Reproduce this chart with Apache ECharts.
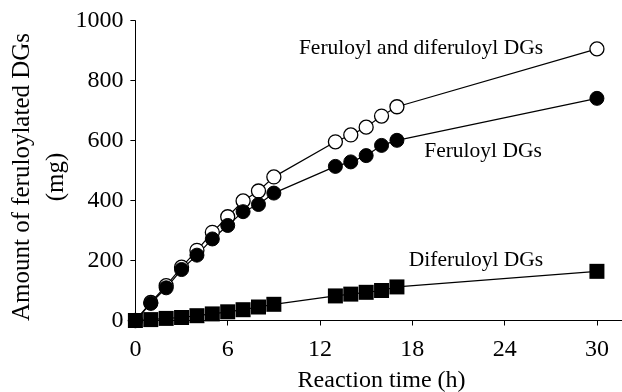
<!DOCTYPE html>
<html>
<head>
<meta charset="utf-8">
<script src="https://cdn.jsdelivr.net/npm/echarts@6/dist/echarts.min.js"></script>
<style>
html,body{margin:0;padding:0;background:#fff;}
#chart{width:622px;height:392px;}
</style>
</head>
<body>
<div id="chart"></div>
<script>
var hours = [0, 1, 2, 3, 4, 5, 6, 7, 8, 9, 13, 14, 15, 16, 17, 30];
var totalDGs = [0, 60, 116, 178, 234, 294, 346, 399, 432, 479, 596, 619, 645, 682, 713, 906];
var feruloylDGs = [0, 57, 109, 170, 218, 272, 317, 363, 387, 425, 514, 529, 550, 584, 601, 741];
var diferuloylDGs = [0, 3, 7, 10, 16, 22, 29, 36, 45, 54, 82, 88, 94, 100, 112, 164];
var xTicks = [0, 6, 12, 18, 24, 30];
var yTicks = [0, 200, 400, 600, 800, 1000];
var seriesNames = ['Feruloyl and diferuloyl DGs', 'Feruloyl DGs', 'Diferuloyl DGs'];
var xTitle = 'Reaction time (h)';
var yTitle1 = 'Amount of feruloylated DGs';
var yTitle2 = '(mg)';

function pairs(xs, ys) { return xs.map(function (x, i) { return [x, ys[i]]; }); }

var FONT = '"Times New Roman", "Liberation Serif", Times, serif';
function f(size) { return size + 'px ' + FONT; }
var chart = echarts.init(document.getElementById('chart'), null, {renderer: 'canvas'});
chart.setOption({
  animation: false,
  backgroundColor: '#fff',
  grid: {left: 135.4, right: -5.7, top: 20.7, bottom: 71.5, containLabel: false, outerBoundsMode: 'none'},
  xAxis: {
    type: 'value', min: 0, max: 32, interval: 6,
    splitLine: {show: false},
    axisLine: {lineStyle: {color: '#000', width: 1}},
    axisTick: {show: true, inside: false, length: 5, lineStyle: {color: '#000'}, customValues: xTicks},
    axisLabel: {margin: 17, color: '#000', fontFamily: FONT, fontSize: 24, customValues: xTicks,
                formatter: function (v) { return String(v); }},
    name: xTitle, nameLocation: 'middle', nameGap: 48,
    nameTextStyle: {color: '#000', fontFamily: FONT, fontSize: 24}
  },
  yAxis: {
    type: 'value', min: 0, max: 1000, interval: 200,
    splitLine: {show: false},
    axisLine: {show: true, lineStyle: {color: '#000', width: 1}},
    axisTick: {show: true, inside: false, length: 5, lineStyle: {color: '#000'}},
    axisLabel: {margin: 12, color: '#000', fontFamily: FONT, fontSize: 24,
                formatter: function (v) { return String(v); }}
  },
  graphic: [
    {type: 'text', x: 22, y: 177, rotation: Math.PI / 2,
     style: {text: yTitle1, font: f(25), fill: '#000', align: 'center', verticalAlign: 'middle'}},
    {type: 'text', x: 56, y: 177, rotation: Math.PI / 2,
     style: {text: yTitle2, font: f(25), fill: '#000', align: 'center', verticalAlign: 'middle'}},
    {type: 'text', x: 421, y: 48,
     style: {text: seriesNames[0], font: f(21.5), fill: '#000', align: 'center', verticalAlign: 'middle'}},
    {type: 'text', x: 483, y: 151,
     style: {text: seriesNames[1], font: f(21.5), fill: '#000', align: 'center', verticalAlign: 'middle'}},
    {type: 'text', x: 476, y: 260,
     style: {text: seriesNames[2], font: f(21.5), fill: '#000', align: 'center', verticalAlign: 'middle'}}
  ],
  series: [
    {name: seriesNames[0], type: 'line', data: pairs(hours, totalDGs),
     symbol: 'circle', symbolSize: 14, showAllSymbol: true,
     lineStyle: {color: '#000', width: 1.2},
     itemStyle: {color: '#fff', borderColor: '#000', borderWidth: 1.3}},
    {name: seriesNames[1], type: 'line', data: pairs(hours, feruloylDGs),
     symbol: 'circle', symbolSize: 14, showAllSymbol: true,
     lineStyle: {color: '#000', width: 1.2},
     itemStyle: {color: '#000', borderColor: '#000', borderWidth: 1}},
    {name: seriesNames[2], type: 'line', data: pairs(hours, diferuloylDGs),
     symbol: 'rect', symbolSize: 15, showAllSymbol: true,
     lineStyle: {color: '#000', width: 1.2},
     itemStyle: {color: '#000', borderColor: '#000', borderWidth: 0}}
  ]
});
</script>
</body>
</html>
